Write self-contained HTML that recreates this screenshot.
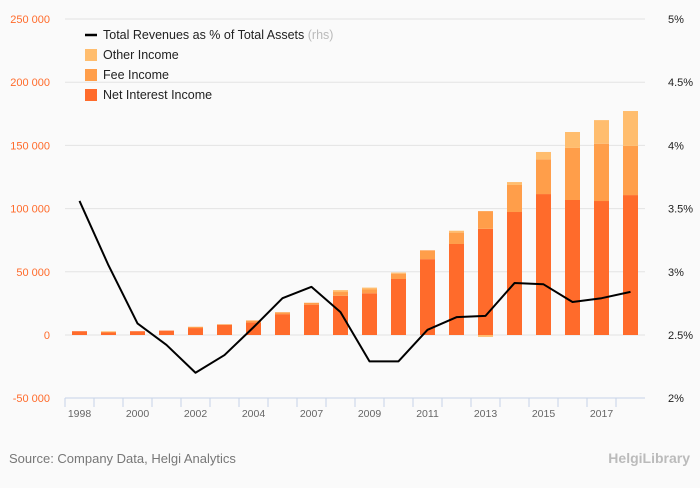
<!DOCTYPE html>
<html><head><meta charset="utf-8"><style>
html,body{margin:0;padding:0;background:#fafafa;}
svg text{font-family:"Liberation Sans",sans-serif;}
</style></head><body>
<svg id="c" width="700" height="483" xmlns="http://www.w3.org/2000/svg">
<rect width="700" height="483" fill="#fafafa"/>
<g id="grid"></g><g id="bars"></g><g id="line"></g><g id="axes"></g>
<g font-size="12.5" fill="#222">
<line x1="85" y1="35" x2="97" y2="35" stroke="#000" stroke-width="2.5"/>
<text x="103" y="39">Total Revenues as % of Total Assets <tspan fill="#bbb">(rhs)</tspan></text>
<rect x="85" y="49" width="12" height="12" fill="#ffbd6e"/><text x="103" y="59">Other Income</text>
<rect x="85" y="69" width="12" height="12" fill="#ff9e4a"/><text x="103" y="79">Fee Income</text>
<rect x="85" y="89" width="12" height="12" fill="#ff6b2b"/><text x="103" y="99">Net Interest Income</text>
</g>
<text x="9" y="463" font-size="13" fill="#777">Source: Company Data, Helgi Analytics</text>
<text x="690" y="463" font-size="14" fill="#bbb" text-anchor="end" font-weight="bold">HelgiLibrary</text>
</svg>
<script>
const years=["1998","1999","2000","2001","2002","2003","2004","2006","2007","2008","2009","2010","2011","2012","2013","2014","2015","2016","2017","2018"];
const labels=["1998","","2000","","2002","","2004","","2007","","2009","","2011","","2013","","2015","","2017",""];
const nii=[3000,2000,3000,3500,5500,8000,10000,16500,24000,31000,33000,44300,60000,72000,84000,97300,111500,106800,106000,110700];
const fee=[0,500,0,0,1000,500,1500,1500,1500,3000,3000,4200,7000,9000,14000,21400,27500,41200,45300,38900];
const other=[0,500,0,0,0,0,0,0,0,1500,1500,900,0,1500,-1500,2300,5800,12600,18700,27600];
const pct=[3.56,3.05,2.59,2.42,2.20,2.34,2.56,2.79,2.88,2.68,2.29,2.29,2.54,2.64,2.65,2.91,2.90,2.76,2.79,2.84];
const leftTicks=[-50000,0,50000,100000,150000,200000,250000];
const rightTicks=["2%","2.5%","3%","3.5%","4%","4.5%","5%"];
const NS="http://www.w3.org/2000/svg";
const x0=65,bw=29;
const yL=v=>335-v*316/250000;
const yR=p=>398-(p-2)*379/3;
const xC=i=>x0+bw*i+bw/2;
function mk(t,a,p){const e=document.createElementNS(NS,t);for(const k in a)e.setAttribute(k,a[k]);document.getElementById(p).appendChild(e);return e;}
leftTicks.forEach((v,i)=>{
 const y=yL(v);
 if(i>0){const g=mk("line",{x1:x0,x2:645,y1:y,y2:y,stroke:"#e3e3e3","stroke-width":1},"grid");
 
 }
 const t=mk("text",{x:50,y:y+4,"text-anchor":"end","font-size":"11",fill:"#ff6b2b"},"axes");
 t.textContent=v.toLocaleString('en-US').replace(/,/g,' ');
 
 
 const r=mk("text",{x:668,y:y+4,"font-size":"11",fill:"#222"},"axes");
 r.textContent=rightTicks[i];
 
 
});
const ax=mk("line",{x1:x0,x2:645,y1:398,y2:398,stroke:"#c6d3e8","stroke-width":1},"axes");


years.forEach((yr,i)=>{
 const tk=mk("line",{x1:x0+bw*i,x2:x0+bw*i,y1:398,y2:407,stroke:"#c6d3e8"},"axes");
 
 
 if(labels[i]){const t=mk("text",{x:xC(i),y:417,"text-anchor":"middle","font-size":"10.5",fill:"#666"},"axes");
 t.textContent=labels[i];
 
 }
 const segs=[[0,nii[i],"#ff6b2b","bar-net-interest-income"],[nii[i],nii[i]+fee[i],"#ff9e4a","bar-fee-income"]];
 if(other[i]>=0)segs.push([nii[i]+fee[i],nii[i]+fee[i]+other[i],"#ffbd6e","bar-other-income"]);
 else segs.push([other[i],0,"#ffbd6e","bar-other-income"]);
 segs.forEach(s=>{
  const a=yL(s[1]),b=yL(s[0]);if(b-a<=0)return;
  const r=mk("rect",{x:xC(i)-7.5,y:a,width:15,height:b-a,fill:s[2]},"bars");
  
  
 });
});
const pl=mk("polyline",{points:pct.map((p,i)=>xC(i)+","+yR(p)).join(" "),fill:"none",stroke:"#000","stroke-width":2,"stroke-linejoin":"round"},"line");


</script>
</body></html>
